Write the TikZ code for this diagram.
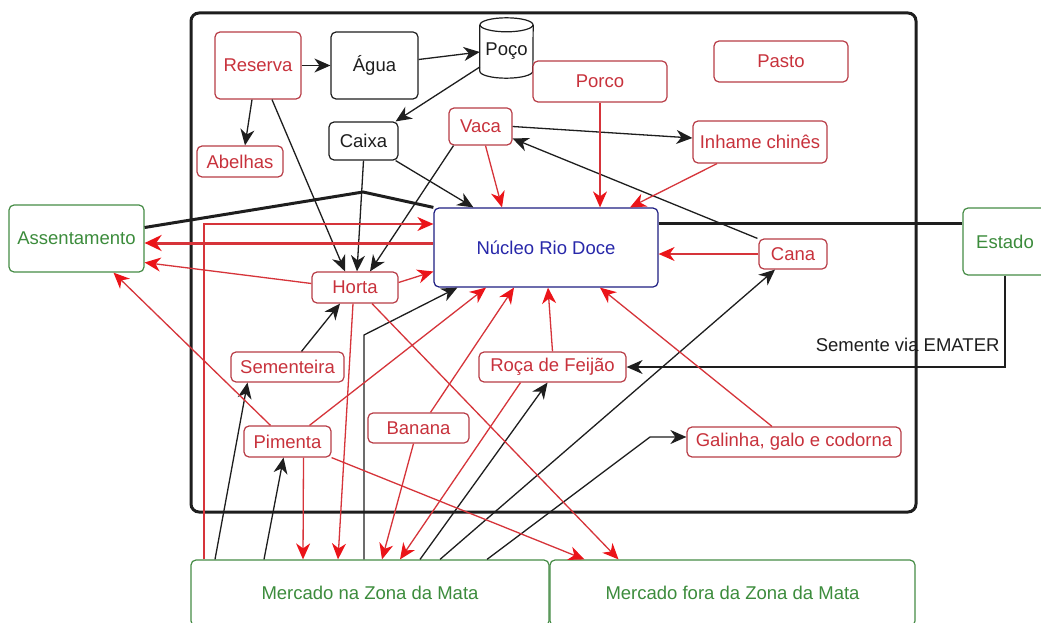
\documentclass[tikz,border=0pt]{standalone}
\usepackage{fontspec}
\setmainfont{Liberation Sans}
\usetikzlibrary{arrows.meta,calc}
\definecolor{rline}{RGB}{214,52,58}
\definecolor{rtip}{RGB}{235,20,25}
\definecolor{rbord}{RGB}{184,60,70}
\definecolor{rtext}{RGB}{200,50,60}
\definecolor{gbord}{RGB}{70,140,70}
\definecolor{gtext}{RGB}{60,140,60}
\definecolor{bbord}{RGB}{30,30,130}
\definecolor{btext}{RGB}{40,40,170}
\definecolor{nblack}{RGB}{30,30,30}
\tikzset{
  box/.style={draw, rounded corners=5pt, fill=white, inner sep=0pt, line width=1.2pt,
    font=\fontsize{18.5}{20}\selectfont},
  redbox/.style={box, draw=rbord, text=rtext},
  blkbox/.style={box, draw=nblack, text=nblack},
  grnbox/.style={box, draw=gbord, text=gtext},
  blubox/.style={box, draw=bbord, text=btext},
  blkarr/.style={draw=nblack, line width=1.3pt, -{Stealth[length=16pt,width=14pt,inset=5pt]}},
  redarr/.style={draw=rline, line width=1.3pt, -{Stealth[length=16pt,width=14pt,inset=5pt,color=rtip]}},
  thk/.style={draw=nblack, line width=3pt},
}
\begin{document}
\begin{tikzpicture}[x=1pt,y=-1pt]
\clip (0,0) rectangle (1041,623);
\fill[white] (0,0) rectangle (1041,623);
% frame
\node[draw=nblack, line width=3pt, rounded corners=8pt, minimum width=725, minimum height=499, inner sep=0pt] (frame) at (553.5,262.5) {};

% nodes
\node[redbox, minimum width=86, minimum height=67] (reserva) at (258,65.5) {Reserva};
\node[blkbox, minimum width=87, minimum height=67] (agua) at (374.5,65.5) {Água};
\node[inner sep=0pt, minimum width=53, minimum height=60] (poco) at (506.5,48) {};
\fill[white] ([yshift=-7]poco.north west) rectangle ([yshift=7]poco.south east);
\draw[nblack, line width=1.2pt, fill=white] ([yshift=-7]poco.north west) -- ([yshift=7]poco.south west)
  arc[start angle=180, end angle=360, x radius=26.5pt, y radius=7pt] -- ([yshift=-7]poco.north east);
\draw[nblack, line width=1.2pt, fill=white] ([yshift=-7]poco.north) ellipse [x radius=26.5pt, y radius=7pt];
\node[font=\fontsize{18.5}{20}\selectfont, text=nblack] at ([yshift=-3]poco.center) {Poço};
\node[redbox, minimum width=134, minimum height=41] (porco) at (600,81.5) {Porco};
\node[redbox, minimum width=134, minimum height=41] (pasto) at (781,61.5) {Pasto};
\node[redbox, minimum width=86, minimum height=31] (abelhas) at (240,161.5) {Abelhas};
\node[blkbox, minimum width=69, minimum height=38] (caixa) at (363.5,141) {Caixa};
\node[redbox, minimum width=63, minimum height=37] (vaca) at (480.5,126.5) {Vaca};
\node[redbox, minimum width=134, minimum height=42] (inhame) at (760,142) {Inhame chinês};
\node[blubox, minimum width=224, minimum height=79] (nucleo) at (546,247.5) {Núcleo Rio Doce};
\node[redbox, minimum width=68, minimum height=30] (cana) at (793,254) {Cana};
\node[grnbox, minimum width=135, minimum height=67] (assent) at (76.5,238.5) {Assentamento};
\node[grnbox, minimum width=84, minimum height=67] (estado) at (1005,241.5) {Estado};
\node[redbox, minimum width=86, minimum height=31] (horta) at (355,287.5) {Horta};
\node[redbox, minimum width=113, minimum height=30] (sement) at (287.5,367) {Sementeira};
\node[redbox, minimum width=147, minimum height=30] (roca) at (552.5,367) {Roça de Feijão};
\node[redbox, minimum width=101, minimum height=30] (banana) at (418.5,428) {Banana};
\node[redbox, minimum width=87, minimum height=31] (pimenta) at (287.5,441.5) {Pimenta};
\node[redbox, minimum width=214, minimum height=30] (galinha) at (794,442) {Galinha, galo e codorna};
\node[grnbox, minimum width=358, minimum height=66] (mzm) at (370,593) {Mercado na Zona da Mata};
\node[grnbox, minimum width=365, minimum height=66] (mfora) at (732.5,593) {Mercado fora da Zona da Mata};

\coordinate (bendA) at (363,192);
\coordinate (bendB) at (364,335);
\coordinate (bendC) at (650,437);

% black connectors
\draw[blkarr] (reserva.east) -- (agua.west);
\draw[blkarr] ([yshift=6]agua.east) -- ([yshift=-4]poco.west);
\draw[blkarr] ([yshift=-19]poco.west) -- ([xshift=-3]caixa.north east);
\draw[blkarr] ([xshift=-6]reserva.south) -- ([xshift=5]abelhas.north);
\draw[blkarr] ([xshift=14]reserva.south) -- ([xshift=-10]horta.north);
\draw[blkarr] (caixa.south) -- ([xshift=2]horta.north);
\draw[blkarr] ([xshift=-3]caixa.south east) -- ([xshift=40]nucleo.north west);
\draw[blkarr] ([xshift=-27]vaca.south) -- ([xshift=15]horta.north);
\draw[blkarr] (vaca.east) -- ([yshift=4]inhame.west);
\draw[blkarr] ([xshift=-1]cana.north west) -- ([yshift=-12]vaca.east);
\draw[thk] ([yshift=11]assent.east) -- (bendA) -- (nucleo.north west);
\draw[thk] ([yshift=24]nucleo.east) -- ([yshift=18]estado.west);
\draw[blkarr] (estado.south) |- (roca.east);
\node[font=\fontsize{18.5}{20}\selectfont, text=nblack, anchor=east] (semlbl) at (1003,345) {Semente via EMATER};
\draw[blkarr] ([xshift=-155]mzm.north) -- ([xshift=-40]sement.south);
\draw[blkarr] ([xshift=-106]mzm.north) -- ([xshift=-4]pimenta.south);
\draw[blkarr] ([xshift=-6]mzm.north) -- (bendB) -- ([xshift=24]nucleo.south west);
\draw[blkarr] ([xshift=50]mzm.north) -- ([xshift=-5]roca.south);
\draw[blkarr] ([xshift=70]mzm.north) -- ([xshift=-18]cana.south);
\draw[blkarr] ([xshift=117]mzm.north) -- (bendC) -- ([yshift=5]galinha.west);
\draw[blkarr] ([xshift=14]sement.north) -- ([xshift=-15]horta.south);

% red connectors
\draw[redarr] ([xshift=5]vaca.south) -- ([xshift=-44]nucleo.north);
\draw[redarr] (porco.south) -- ([xshift=54]nucleo.north);
\draw[redarr] ([xshift=-43]inhame.south) -- ([xshift=84]nucleo.north);
\draw[redarr] (cana.west) -- ([yshift=-6.5]nucleo.east);
\draw[draw=rline, line width=3pt, -{Stealth[length=17pt,width=16pt,inset=5.5pt,color=rtip]}] ([yshift=4.5]nucleo.west) -- ([yshift=-4.5]assent.east);
\draw[redarr] ([xshift=-166]mzm.north) |- ([yshift=23.5]nucleo.west);
\draw[redarr] ([yshift=4]horta.west) -- ([yshift=-24]assent.east);
\draw[redarr] ([yshift=5]horta.east) -- ([yshift=-24]nucleo.west);
\draw[redarr] ([xshift=-17]pimenta.north) -- ([xshift=37]assent.south);
\draw[redarr] ([xshift=-2]horta.south) -- ([xshift=-32]mzm.north);
\draw[redarr] ([xshift=17]horta.south) -- ([xshift=-114]mfora.north);
\draw[redarr] ([xshift=16]pimenta.south) -- ([xshift=-67]mzm.north);
\draw[redarr] ([xshift=22]pimenta.north) -- ([xshift=-60]nucleo.south);
\draw[redarr] (pimenta.south east) -- ([xshift=-148]mfora.north);
\draw[redarr] ([xshift=12]banana.north) -- ([xshift=-32]nucleo.south);
\draw[redarr] ([xshift=-5]banana.south) -- ([xshift=12]mzm.north);
\draw[redarr] ([xshift=-32]roca.south) -- ([xshift=30]mzm.north);
\draw[redarr] (roca.north) -- ([xshift=2]nucleo.south);
\draw[redarr] ([xshift=-22]galinha.north) -- ([xshift=54]nucleo.south);
\end{tikzpicture}
\end{document}
